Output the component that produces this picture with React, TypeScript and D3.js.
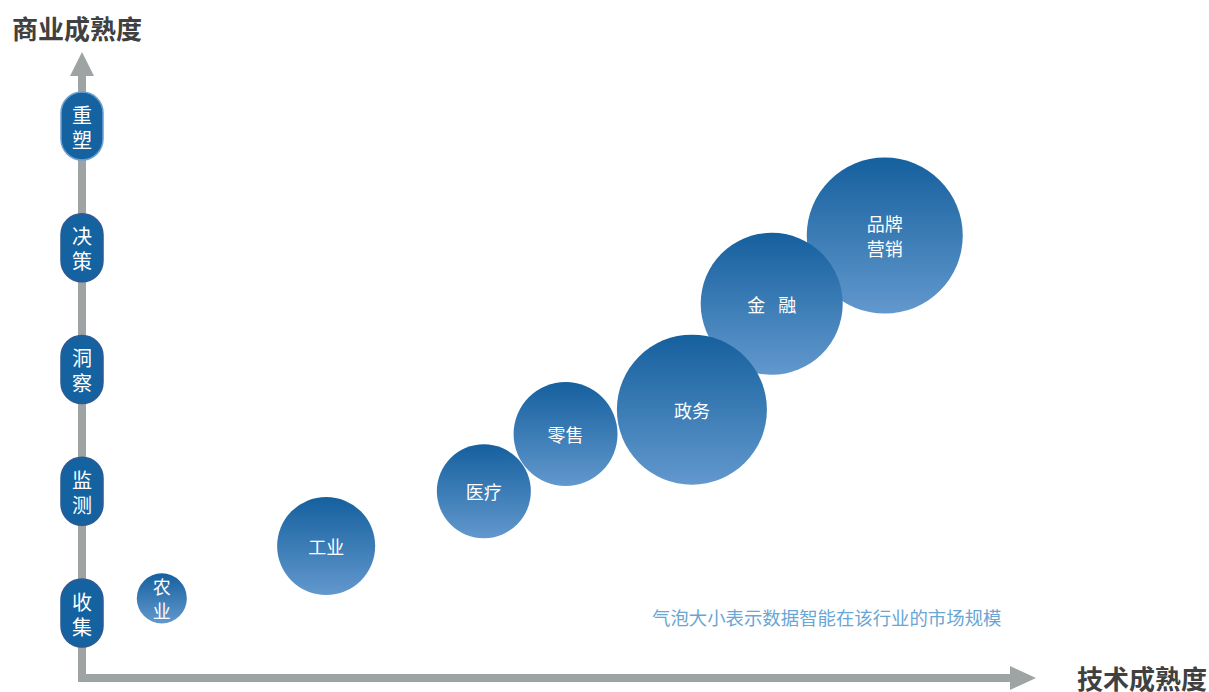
import React from "react";
import * as d3 from "d3";

// ---- data ----
const industries = ["农业", "工业", "医疗", "零售", "品牌营销", "金融", "政务"];
const labelLines = [["农", "业"], ["工业"], ["医疗"], ["零售"], ["品牌", "营销"], ["金融"], ["政务"]];
const labelSpacing = [0, 0, 0, 0, 0, 13, 0];
const techMaturity = [8.4, 25.7, 42.3, 50.9, 84.5, 72.6, 64.2];
const bizMaturity = [0.12, 0.55, 1.0, 1.47, 3.1, 2.54, 1.67];
const marketSize = [10.3, 39.5, 36.3, 44.4, 100, 82.9, 92.5];
const levels = [["收", "集"], ["监", "测"], ["洞", "察"], ["决", "策"], ["重", "塑"]];

const W = 1209;
const H = 692;
const FONT = "'Noto Sans CJK SC', 'Noto Sans', sans-serif";

export default function App() {
  const x = d3.scaleLinear().domain([0, 100]).range([82, 1032]);
  const y = d3.scaleLinear().domain([0, 4]).range([613, 126]);
  const r = d3.scaleSqrt().domain([0, 100]).range([0, 78]);
  const axisColor = "#9ea3a3";
  const pillW = 42;
  const pillH = 68;

  return (
    <svg
      width={W}
      height={H}
      style={{ position: "absolute", left: 0, top: 0, fontFamily: FONT }}
    >
      <defs>
        <linearGradient id="bub" x1="0" y1="0" x2="0" y2="1">
          <stop offset="0%" stopColor="#15609e" />
          <stop offset="100%" stopColor="#6298cd" />
        </linearGradient>
      </defs>
      <rect width={W} height={H} fill="#fff" />

      {/* axes */}
      <rect x={78} y={74} width={8} height={608} fill={axisColor} />
      <path d="M82,52 L94,76 L70,76 Z" fill={axisColor} />
      <rect x={78} y={674} width={934} height={8} fill={axisColor} />
      <path d="M1036,678 L1010,666 L1010,690 Z" fill={axisColor} />

      <text x={12} y={27} fontSize={26} fontWeight="bold" fill="#404040" dominantBaseline="central">
        商业成熟度
      </text>
      <text x={1207} y={677} fontSize={26} fontWeight="bold" fill="#404040" textAnchor="end" dominantBaseline="central">
        技术成熟度
      </text>

      {/* level pills */}
      {levels.map((lv, i) => (
        <g key={i}>
          <rect
            x={82 - pillW / 2}
            y={y(i) - pillH / 2}
            width={pillW}
            height={pillH}
            rx={pillW / 2}
            fill="#14629f"
            stroke={i === 4 ? "#6c9fcf" : "#2d5a95"}
            strokeWidth={1.5}
          />
          <text x={82} y={y(i) - 12.5} fontSize={20} fill="#fff" textAnchor="middle" dominantBaseline="central">
            {lv.map((ch, j) => (
              <tspan key={j} x={82} dy={j === 0 ? 0 : 25}>
                {ch}
              </tspan>
            ))}
          </text>
        </g>
      ))}

      {/* bubbles */}
      {industries.map((name, i) => {
        const cx = x(techMaturity[i]);
        const cy = y(bizMaturity[i]);
        const lines = labelLines[i];
        const lh = i === 0 ? 24 : 25;
        const ls = labelSpacing[i];
        return (
          <g key={name}>
            <circle cx={cx} cy={cy} r={r(marketSize[i])} fill="url(#bub)" />
            <text
              x={cx + ls / 2}
              y={cy - ((lines.length - 1) / 2) * lh}
              fontSize={18}
              fill="#fff"
              textAnchor="middle"
              dominantBaseline="central"
              letterSpacing={ls}
            >
              {lines.map((ln, j) => (
                <tspan key={j} x={cx + ls / 2} dy={j === 0 ? 0 : lh}>
                  {ln}
                </tspan>
              ))}
            </text>
          </g>
        );
      })}

      <text x={652} y={617} fontSize={18.4} fill="#6aa6d4" dominantBaseline="central">
        气泡大小表示数据智能在该行业的市场规模
      </text>
    </svg>
  );
}
